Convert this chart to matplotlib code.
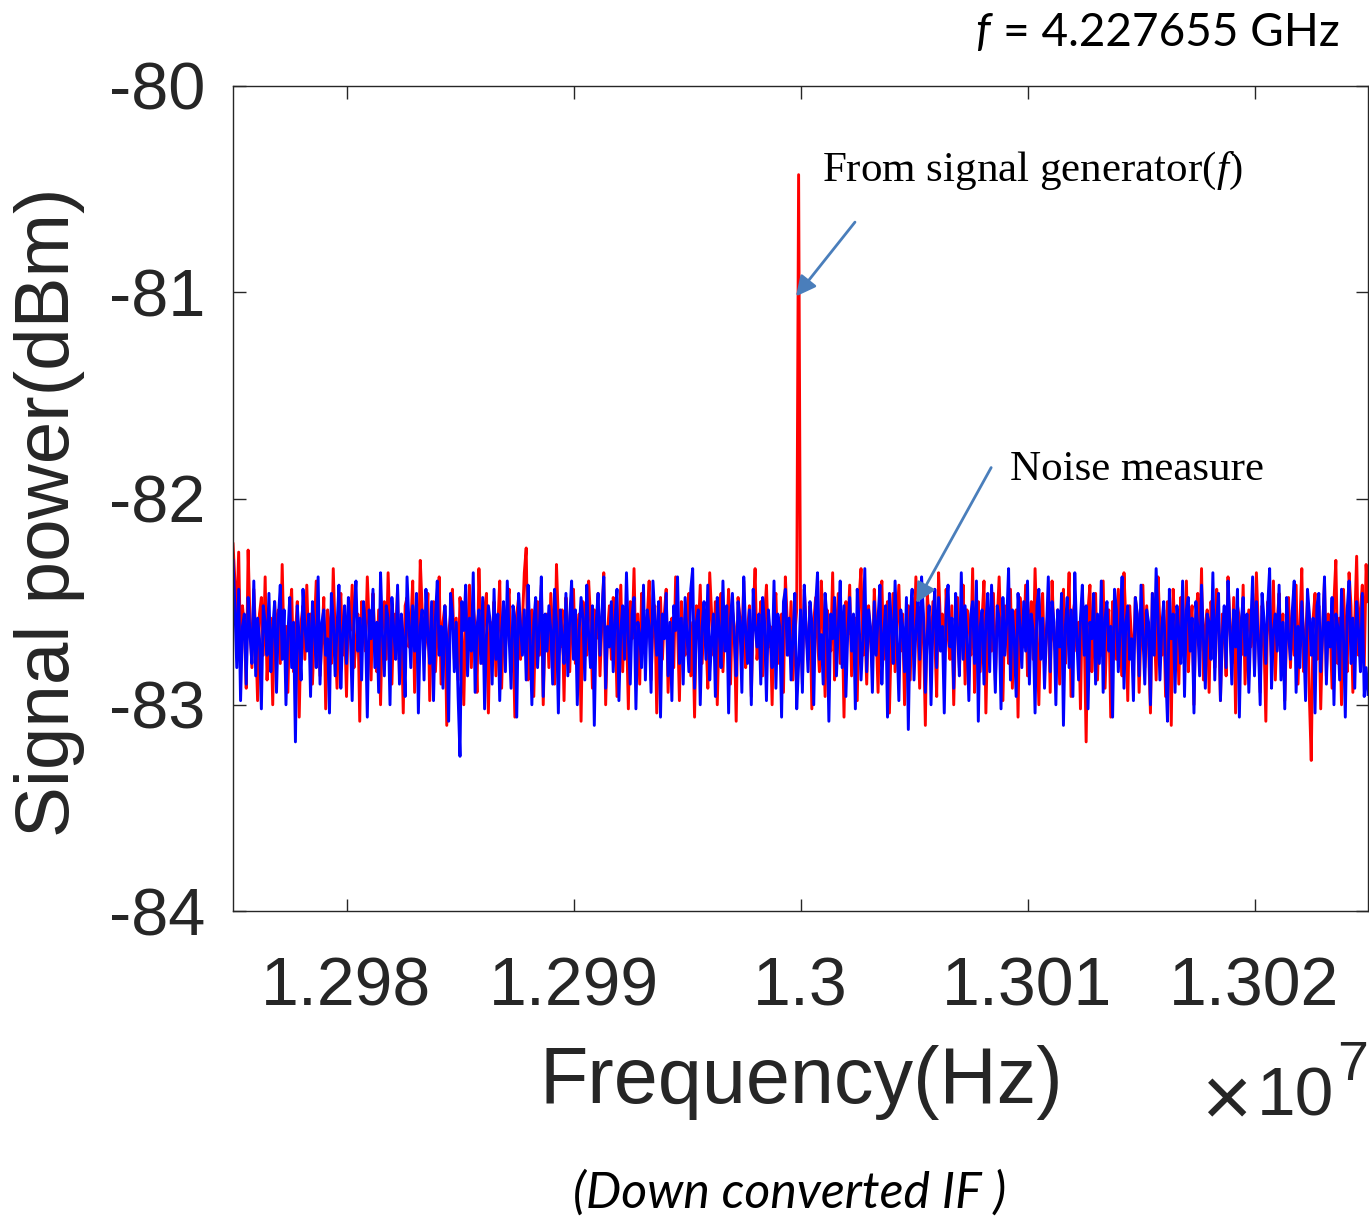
import numpy as np
import matplotlib
matplotlib.use("Agg")
import matplotlib.pyplot as plt

# ---------------- data ----------------
f_start_hz = 12975000.0
f_stop_hz = 13025000.0
noise_floor_dbm = -82.70

# deviations from the noise floor, in hundredths of a dB
red_dev_cdb = [
    48, 30, 12, 44, -5, 18, 8, -22, 45, 10, -12, 26, 4, -28, 14, 22, -6, 32, -18, 6,
    12, -30, 20, 2, 16, -10, 38, -4, 8, -24, 14, 26, -14, 4, 20, -36, 10, 18, -8, 28,
    -2, 14, -20, 6, 30, 12, -16, 2, 22, -32, 16, 8, -10, 36, 4, -22, 12, 24, -6, 10,
    -26, 18, 6, 28, -12, 0, 14, -38, 20, 10, -4, 32, 8, -18, 24, 2, -14, 16, -30, 12,
    20, -8, 34, 6, -20, 14, 4, 26, -16, 10, -34, 18, 22, -2, 8, 30, -24, 12, -10, 40,
    16, -6, 2, 24, -28, 12, 20, -14, 6, 32, -20, 10, 18, -40, 4, 14, 26, -8, 12, -18,
    22, 6, -30, 14, 0, 28, -12, 18, 8, -24, 36, 4, -10, 16, 24, -34, 10, 2, 20, -16,
    8, 30, -22, 12, -4, 18, 26, -14, 6, -36, 14, 22, -8, 10, 34, 46, -18, 4, 16, -26,
    12, 20, -6, 28, -30, 8, 14, -12, 24, 4, -20, 38, 10, -2, 16, -28, 22, 6, -14, 18,
    26, -10, 4, 14, -38, 20, 8, -6, 30, 12, -22, 16, 2, 24, -16, 10, 34, -30, 6, 18,
    -8, 22, 12, -26, 4, 28, -14, 16, 8, -32, 20, 2, 36, -10, 14, -20, 24, 6, -4, 12,
    30, -18, 10, 18, -34, 6, 22, -8, 14, 26, -24, 4, 12, -12, 32, 8, -28, 20, 2, -6,
    16, 24, -16, 10, -36, 18, 6, 28, -10, 12, 4, -22, 34, 14, -6, 20, -30, 8, 24, -14,
    10, 2, 26, -20, 16, 8, -38, 22, 12, -4, 30, -12, 6, 18, -26, 14, 36, -8, 4, 20,
    -16, 12, 28, -2, 8, -30, 18, 24, -10, 6, 14, -24, 32, 10, -6, 20, -18, 4, 16, 227,
    14, -20, 26, 6, -8, 18, -32, 10, 22, 2, -14, 30, 8, -26, 16, 12, -4, 34, -18, 6,
    24, -10, 14, -36, 20, 4, 28, -16, 8, 12, -28, 22, 36, -6, 10, -20, 18, 2, -12, 26,
    6, -24, 16, 30, -8, 12, 20, -34, 4, 24, -14, 10, 28, -4, 14, -30, 8, 18, -18, 22,
    -2, 32, 10, -22, 16, 6, -40, 24, 12, -10, 20, 2, -26, 34, 8, 14, -16, 26, 4, -8,
    18, -30, 12, 22, -12, 6, 28, -20, 16, 10, -6, 36, -24, 4, 20, -14, 12, 30, -34, 8,
    14, -4, 24, -18, 10, 32, 2, -28, 18, 6, -10, 26, -22, 12, 16, -36, 22, 8, -2, 28,
    -16, 10, 20, -8, 36, 4, -30, 14, 24, -12, 6, 18, -24, 30, 2, -6, 16, -20, 12, 26,
    -10, 8, 34, -26, 14, 20, -4, 10, -32, 22, 6, -48, 16, 28, -14, 4, 24, -18, 12, -6,
    30, -22, 8, 16, -36, 20, 12, -8, 26, 4, -16, 34, 10, -28, 18, 2, -10, 22, 14, -24,
    6, 28, -12, 18, -2, -34, 24, 10, -18, 32, 8, -6, 16, -26, 20, 12, -40, 26, 4, 14,
    -20, 22, 10, -8, 30, -14, 6, 18, -30, 12, 24, -4, 36, -18, 8, 16, -24, 20, 2, -12,
    26, 10, -28, 14, 4, -16, 32, 8, -10, 22, -34, 18, 12, -6, 28, -20, 6, 16, -2, 24,
    -14, 34, 8, -24, 18, 2, -38, 20, 12, -8, 30, -18, 10, 24, -4, 14, -28, 6, 22, -12,
    16, -6, 28, -20, 10, 36, -14, 4, 20, -26, -57, 12, 24, -8, 18, -32, 6, 30, -16, 14,
    8, -22, 20, 40, -10, 12, -30, 26, 4, -14, 34, 18, -24, 10, 42, -6, 16, 28, -12, 38,
    20,
]

blue_dev_cdb = [
    40, 18, -12, 26, -28, 8, 14, -20, 22, 4, -10, 30, -16, 12, 2, -32, 18, 10, -6, 24,
    -14, 6, 20, -24, 12, 28, -8, 16, -30, 4, 22, -12, 10, -48, 18, 2, -18, 26, 8, -4,
    14, -26, 20, 6, -12, 32, -20, 10, 16, -6, 2, -34, 24, 12, -16, 8, 28, -22, 4, 18,
    -10, 22, 6, -28, 14, 30, -4, 12, -18, 20, 8, -36, 16, 2, 26, -12, 10, -24, 34, 4,
    -16, 18, 12, -30, 22, 6, -8, 28, -20, 14, 2, -26, 32, 10, -12, 18, -4, 24, -34, 8,
    16, -18, 26, 4, -10, 20, -28, 12, 30, -6, 8, -22, 18, 2, -38, 24, 14, -14, 10, -26,
    -55, 20, 6, 28, -16, 12, -4, 34, -24, 8, 16, -10, 22, -32, 4, 18, 10, -20, 26, -8,
    14, -28, 6, 20, -14, 30, 2, -22, 18, 12, -36, 24, 8, -6, 16, -18, 28, 4, -30, 10,
    22, -12, 8, 32, -26, 14, -4, 18, 6, -20, 26, 10, -34, 16, 2, -10, 24, -16, 12, 30,
    -8, 16, -30, 6, 22, 12, -18, 28, 4, -12, 18, -40, 10, 24, -6, 14, 32, -22, 8, -2,
    20, -14, 12, 26, -28, 6, 18, -8, 34, 2, -20, 14, 22, -32, 10, 4, -12, 28, -18, 16,
    8, -24, 30, 12, -6, 20, -36, 14, 2, 24, -16, 10, -28, 18, 6, 32, -10, 12, -20, 22,
    4, -14, 26, 36, -22, 10, 16, -30, 8, 20, -8, 28, -18, 2, 14, -26, 22, 6, -12, 30,
    -4, 18, -34, 12, 24, 2, -16, 20, 10, -24, 32, 6, -10, 16, -30, 26, 8, -2, 14, -20,
    22, 10, -28, 16, 4, -12, 30, -22, 14, 8, -36, 20, 26, -6, 12, -18, 2, 24, -32, -10,
    16, -24, 28, 6, -14, 20, 10, -30, 18, 34, -8, 4, -20, 24, 12, -38, 14, 2, 22, -16,
    8, 30, -12, 18, -26, 6, 22, -4, 14, -32, 26, 10, -18, 2, 36, -14, 16, 8, -24, 20,
    -6, 12, 28, -20, 4, 18, -36, 24, 10, -10, 30, 2, -28, 16, 8, -14, 22, -42, 12, 26,
    -18, 6, 20, -8, 32, 14, -24, 4, 18, -30, 10, 26, -12, 22, -4, 8, -34, 16, 28, -2,
    12, -22, 24, 6, -16, 34, -8, 18, 2, -28, 14, 20, -10, 30, -38, 8, 16, -20, 10, 24,
    -14, 28, 4, -24, 18, 12, -32, 22, -6, 10, 36, -18, 16, 2, -26, 24, 8, -12, 20, -4,
    30, -20, 14, 6, -34, 18, 26, -8, 12, -22, 4, 32, -14, 20, 10, -30, 16, -2, 24, -40,
    8, 22, -12, 16, -26, 34, 4, -18, 12, 28, -6, 18, -32, 10, 2, 24, -20, 14, -10, 30,
    -24, 12, 20, -4, 8, -36, 26, 16, -14, 6, 32, -22, 10, 18, -8, 2, -28, 22, 14, -16,
    28, 4, -20, 16, 10, -30, 24, -6, 36, 12, -18, 8, 20, -12, -38, 26, 2, 14, -24, 18,
    6, -10, 30, -26, 16, 22, -4, 12, -34, 20, 8, -16, 28, 2, -22, 14, 10, -8, 34, -18,
    12, 24, -28, 4, 18, -12, 30, 8, -20, 16, -2, 26, -36, 10, 22, -6, 14, -24, 6, 32,
    -16, 20, 2, -30, 24, 12, -10, 18, 36, -22, 6, 14, -4, 28, -18, 10, -32, 22, 4, -8,
    16, 30, -24, 8, -12, 20, 2, -28, 26, 14, -6, 12, -34, 18, 24, -14, 4, 32, -20, 10,
    -2, 22, -30, 14, 8, -18, 26, 4, -36, 16, 30, -10, 12, -22, 20, 6, -14, 24, -26, -12,
    -25,
]

x_ticks = [12980000, 12990000, 13000000, 13010000, 13020000]
x_tick_labels = ["1.298", "1.299", "1.3", "1.301", "1.302"]
y_ticks = [-84, -83, -82, -81, -80]
y_tick_labels = ["-84", "-83", "-82", "-81", "-80"]

# ---------------- figure ----------------
plt.rcParams["font.family"] = ["Liberation Sans", "DejaVu Sans"]
plt.rcParams["mathtext.fontset"] = "custom"
plt.rcParams["mathtext.rm"] = "Liberation Serif"
plt.rcParams["mathtext.it"] = "Liberation Serif:italic"

red = noise_floor_dbm + np.array(red_dev_cdb) / 100.0
blue = noise_floor_dbm + np.array(blue_dev_cdb) / 100.0
freq_red = np.linspace(f_start_hz, f_stop_hz, len(red))
freq_blue = np.linspace(f_start_hz, f_stop_hz, len(blue))

W, H = 1369, 1218
fig = plt.figure(figsize=(W / 100, H / 100), dpi=100)
ax = fig.add_axes([233 / W, 1 - 911 / H, (1368 - 233) / W, (911 - 86) / H])

ax.plot(freq_red, red, color="#ff0000", lw=2.1, zorder=2)
ax.plot(freq_blue, blue, color="#0000ff", lw=2.1, zorder=3)

ax.set_xlim(f_start_hz, f_stop_hz)
ax.set_ylim(-84, -80)
ax.set_xticks(x_ticks)
ax.set_xticklabels(x_tick_labels)
ax.set_yticks(y_ticks)
ax.set_yticklabels(y_tick_labels)

dark = "#262626"
for s in ax.spines.values():
    s.set_color(dark)
    s.set_linewidth(1.0)
    s.set_zorder(5)
ax.tick_params(axis="both", direction="in", length=9, width=1.0, colors=dark,
               top=True, right=True)
ax.tick_params(axis="x", pad=32, labelsize=49)
ax.tick_params(axis="y", pad=20, labelsize=48)

ax.set_xlabel("Frequency(Hz)", fontsize=57, color=dark, va="center")
ax.xaxis.set_label_coords((801 - 233) / 1135, (911 - 1083) / 825)
ax.set_ylabel("Signal power(dBm)", fontsize=55, color=dark, va="center")
ax.yaxis.set_label_coords((50 - 233) / 1135, (911 - 512) / 825)

# x10^7 multiplier
fig.text(1226 / W, 1 - 1104 / H, "\u00d7", fontsize=62, color=dark,
         ha="center", va="center")
fig.text(1295 / W, 1 - 1097 / H, "10", fontsize=50, color=dark,
         ha="center", va="center")
fig.text(1353 / W, 1 - 1066 / H, "7", fontsize=40, color=dark,
         ha="center", va="center")

# annotations
arrow_col = "#4a7ebb"
ax.annotate("", xy=(12999800, -81.02), xytext=(13002400, -80.66),
            arrowprops=dict(arrowstyle="-|>", color=arrow_col, lw=2.0,
                            mutation_scale=30, shrinkA=0, shrinkB=0))
ax.annotate("", xy=(13005100, -82.507), xytext=(13008400, -81.85),
            arrowprops=dict(arrowstyle="-|>", color=arrow_col, lw=2.0,
                            mutation_scale=30, shrinkA=0, shrinkB=0))
ax.text(13000947, -80.41, r"From signal generator($\mathit{f}$)",
        fontsize=31, family="Liberation Serif", color="black", va="center", ha="left")
ax.text(13009229, -81.86, "Noise measure", fontsize=31,
        family="Liberation Serif", color="black", va="center", ha="left")

# top-right frequency note and bottom caption
fig.text(990 / W, 1 - 33 / H, "f", fontsize=33, style="italic", family="Lato",
         ha="right", va="center", color="black")
fig.text(1340 / W, 1 - 33 / H, "= 4.227655 GHz", fontsize=33, family="Lato",
         ha="right", va="center", color="black")
fig.text(790 / W, 1 - 1193 / H, "(Down converted IF )", fontsize=36, style="italic",
         family="Lato", ha="center", va="center", color="black")

fig.savefig("out.png", dpi=100, facecolor="white")
